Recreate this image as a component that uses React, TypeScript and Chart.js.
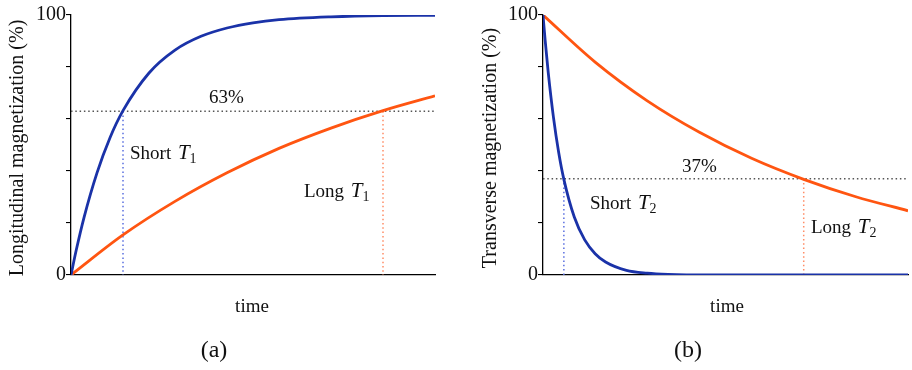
import { useEffect, useRef } from 'react';
import { Chart, registerables } from 'chart.js';
Chart.register(...registerables);

// ---- data ----
const t1ShortTime = [0, 0.1, 0.25, 0.5, 0.75, 1, 1.5, 2, 2.5, 3, 3.5, 4, 5, 6, 7];
const t1ShortValues = [0, 9.5, 22.1, 39.3, 52.8, 63.2, 77.7, 86.5, 91.8, 95.0, 97.0, 98.2, 99.3, 99.8, 99.9];
const t1LongTime = [0, 1, 2, 3, 4, 5, 6, 7];
const t1LongValues = [0, 15.4, 28.3, 39.3, 48.7, 56.5, 63.2, 68.9];

const t2ShortTime = [0, 0.1, 0.25, 0.5, 0.75, 1, 1.5, 2, 2.5, 3, 4, 5, 6, 8, 17.5];
const t2ShortValues = [100, 90.5, 77.9, 60.7, 47.2, 36.8, 22.3, 13.5, 8.2, 5.0, 1.8, 0.7, 0.25, 0.03, 0];
const t2LongTime = [0, 2.5, 5, 7.5, 10, 12.5, 15, 17.5];
const t2LongValues = [100, 81.9, 67.0, 54.9, 44.9, 36.8, 30.1, 24.7];

const leftThreshold = 63;
const rightThreshold = 37;
const leftMarkers = [1, 6]; // short T1, long T1
const rightMarkers = [1, 12.5]; // short T2, long T2
const leftMaxTime = 7;
const rightMaxTime = 17.5;
const yTickLabels = [0, 100];

const FONT = '"Liberation Serif", "Times New Roman", serif';
const BLUE = '#1a32a8';
const ORANGE = '#ff5511';
const TEXT = '#111';

const pts = (xs: number[], ys: number[]) => xs.map((x, i) => ({ x, y: ys[i] }));

type Lbl = { x: number; y: number; pre: string; sub?: string };
type Spec = {
  blueT: number[]; blueV: number[]; orT: number[]; orV: number[];
  maxT: number; threshold: number; markers: number[];
  yAxisWidth: number; padRight: number;
  yTitle: string; yTitleX: number;
  labels: Lbl[]; timeX: number; capX: number; cap: string;
};

function drawLabel(ctx: CanvasRenderingContext2D, l: Lbl) {
  ctx.textAlign = 'left';
  ctx.textBaseline = 'alphabetic';
  ctx.font = `19px ${FONT}`;
  ctx.fillText(l.pre, l.x, l.y);
  if (l.sub) {
    let x = l.x + ctx.measureText(l.pre).width + 2;
    ctx.font = `italic 21px ${FONT}`;
    ctx.fillText('T', x, l.y);
    x += ctx.measureText('T').width;
    ctx.font = `14px ${FONT}`;
    ctx.fillText(l.sub, x, l.y + 4);
  }
}

function build(canvas: HTMLCanvasElement, s: Spec) {
  const plugin = {
    id: 'annot',
    beforeDatasetsDraw(chart: any) {
      const { ctx, chartArea, scales } = chart;
      const x = scales.x, y = scales.y;
      const yy = y.getPixelForValue(s.threshold);
      const y0 = y.getPixelForValue(0);
      ctx.save();
      ctx.lineWidth = 1.5;
      ctx.setLineDash([1.5, 2.8]);
      ctx.strokeStyle = '#555';
      ctx.beginPath();
      ctx.moveTo(chartArea.left, yy);
      ctx.lineTo(chartArea.right, yy);
      ctx.stroke();
      const cols = ['#5a6fe0', '#ff8c66'];
      s.markers.forEach((m, i) => {
        const xx = x.getPixelForValue(m);
        ctx.strokeStyle = cols[i];
        ctx.beginPath();
        ctx.moveTo(xx, yy);
        ctx.lineTo(xx, y0);
        ctx.stroke();
      });
      ctx.restore();
    },
    afterDraw(chart: any) {
      const { ctx, chartArea } = chart;
      ctx.save();
      ctx.fillStyle = TEXT;
      s.labels.forEach((l) => drawLabel(ctx, l));
      ctx.font = `19px ${FONT}`;
      ctx.textAlign = 'center';
      ctx.textBaseline = 'alphabetic';
      ctx.fillText('time', s.timeX, 312);
      ctx.font = `24px ${FONT}`;
      ctx.fillText(s.cap, s.capX, 357);
      ctx.save();
      ctx.translate(s.yTitleX, (chartArea.top + chartArea.bottom) / 2 + 3);
      ctx.rotate(-Math.PI / 2);
      ctx.font = `20px ${FONT}`;
      ctx.textAlign = 'center';
      ctx.fillText(s.yTitle, 0, 0);
      ctx.restore();
      ctx.restore();
    },
  };

  return new Chart(canvas, {
    type: 'line',
    data: {
      datasets: [
        {
          data: pts(s.blueT, s.blueV),
          borderColor: BLUE, borderWidth: 2.8, pointRadius: 0,
          cubicInterpolationMode: 'monotone', fill: false,
        },
        {
          data: pts(s.orT, s.orV),
          borderColor: ORANGE, borderWidth: 2.8, pointRadius: 0,
          cubicInterpolationMode: 'monotone', fill: false,
        },
      ],
    },
    options: {
      animation: false,
      responsive: false,
      events: [],
      layout: { padding: { top: 15, right: s.padRight, left: 0, bottom: 0 } },
      plugins: { legend: { display: false }, tooltip: { enabled: false } },
      scales: {
        x: {
          type: 'linear', min: 0, max: s.maxT,
          grid: { display: false },
          border: { display: true, color: '#000', width: 1.3 },
          ticks: { display: false },
          afterFit: (sc: any) => { sc.height = 95; },
        },
        y: {
          type: 'linear', min: 0, max: 100,
          grid: { display: true, drawOnChartArea: false, drawTicks: true, tickLength: 5, color: '#000', lineWidth: 1.1 },
          border: { display: true, color: '#000', width: 1.3 },
          ticks: {
            stepSize: 20, padding: 0, color: TEXT,
            font: { family: FONT, size: 20 },
            callback: (v: any) => (yTickLabels.includes(Number(v)) ? String(v) : ''),
          },
          afterFit: (sc: any) => { sc.width = s.yAxisWidth; },
        },
      },
    },
    plugins: [plugin],
  } as any);
}

const leftSpec: Spec = {
  blueT: t1ShortTime, blueV: t1ShortValues, orT: t1LongTime, orV: t1LongValues,
  maxT: leftMaxTime, threshold: leftThreshold, markers: leftMarkers,
  yAxisWidth: 71, padRight: 21,
  yTitle: 'Longitudinal magnetization (%)', yTitleX: 23,
  labels: [
    { x: 209, y: 103, pre: '63%' },
    { x: 130, y: 159, pre: 'Short ', sub: '1' },
    { x: 304, y: 197, pre: 'Long ', sub: '1' },
  ],
  timeX: 252, capX: 214, cap: '(a)',
};

const rightSpec: Spec = {
  blueT: t2ShortTime, blueV: t2ShortValues, orT: t2LongTime, orV: t2LongValues,
  maxT: rightMaxTime, threshold: rightThreshold, markers: rightMarkers,
  yAxisWidth: 87, padRight: 4,
  yTitle: 'Transverse magnetization (%)', yTitleX: 40,
  labels: [
    { x: 226, y: 172, pre: '37%' },
    { x: 134, y: 209, pre: 'Short ', sub: '2' },
    { x: 355, y: 233, pre: 'Long ', sub: '2' },
  ],
  timeX: 271, capX: 232, cap: '(b)',
};

export default function App() {
  const leftRef = useRef<HTMLCanvasElement>(null);
  const rightRef = useRef<HTMLCanvasElement>(null);
  useEffect(() => {
    const a = build(leftRef.current!, leftSpec);
    const b = build(rightRef.current!, rightSpec);
    return () => { a.destroy(); b.destroy(); };
  }, []);
  return (
    <div style={{ position: 'fixed', left: 0, top: 0, width: 912, height: 370, background: '#fff' }}>
      <canvas ref={leftRef} width={456} height={370} style={{ position: 'absolute', left: 0, top: 0, width: 456, height: 370 }} />
      <canvas ref={rightRef} width={456} height={370} style={{ position: 'absolute', left: 456, top: 0, width: 456, height: 370 }} />
    </div>
  );
}
